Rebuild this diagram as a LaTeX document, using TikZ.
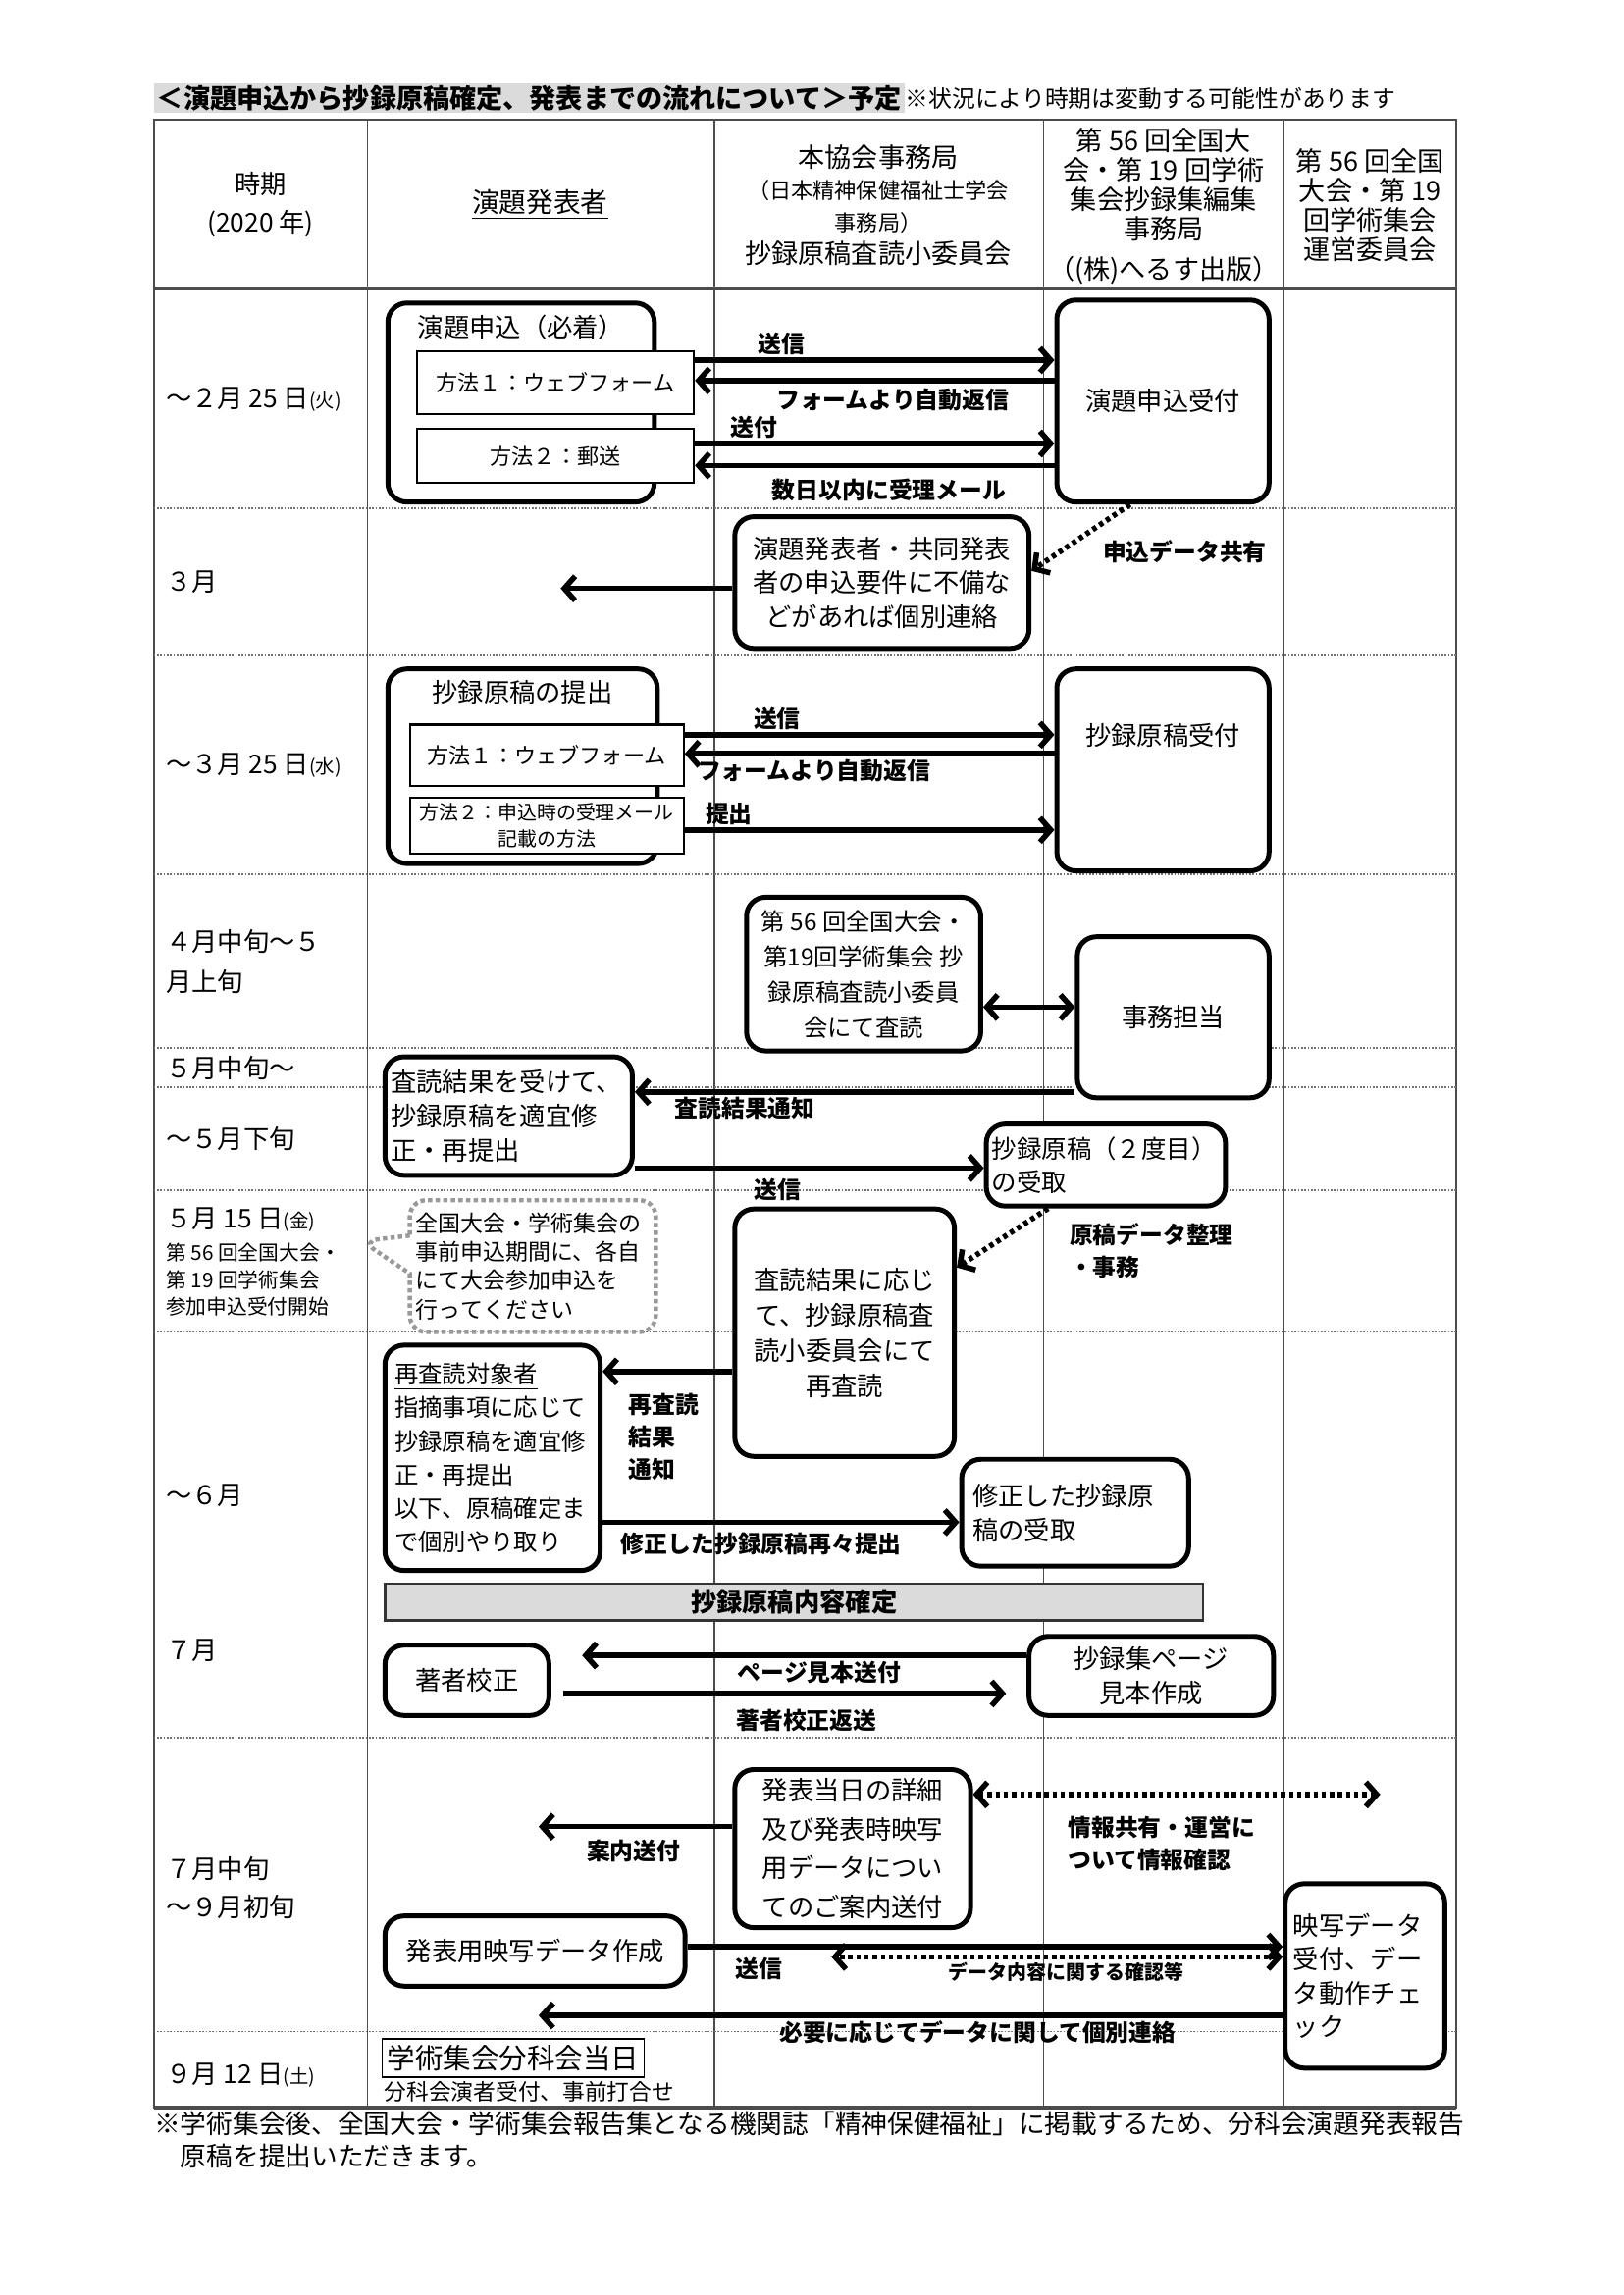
\documentclass[tikz,border=0pt]{standalone}
\usepackage{fontspec}
\setmainfont{Noto Sans CJK JP}
\XeTeXlinebreaklocale "ja"
\usetikzlibrary{arrows.meta,positioning,shapes.callouts}
\newlength{\pxunit}\setlength{\pxunit}{0.5388pt}
\newcommand{\fsBody}{\fontsize{9.5}{12.5}\selectfont}
\newcommand{\fsHead}{\fontsize{9.8}{10.8}\selectfont}
\newcommand{\fsSmall}{\fontsize{8}{10}\selectfont}
\newcommand{\fsMini}{\fontsize{7.2}{9.6}\selectfont}
\newcommand{\fsLabel}{\fontsize{8.6}{12}\selectfont}
\newcommand{\fsTiny}{\fontsize{7}{8.5}\selectfont}
\definecolor{rdGrid}{gray}{0.3}
\definecolor{rdBar}{gray}{0.86}
\definecolor{rdNote}{gray}{0.6}
\tikzset{
  rdbox/.style={rectangle,rounded corners=7pt,draw=black,line width=1.8pt,fill=white,align=center,inner sep=2pt,font=\fsBody},
  rdway/.style={rectangle,draw=black,line width=0.8pt,fill=white,align=center,inner sep=1pt,font=\fsSmall},
  rdplain/.style={inner sep=0pt,font=\fsBody},
  rdflow/.style={-{Straight Barb[length=4pt,width=9pt]},line width=2pt},
  rdboth/.style={{Straight Barb[length=4pt,width=9pt]}-{Straight Barb[length=4pt,width=9pt]},line width=2pt},
  rddot/.style={dash pattern=on 1.6pt off 1.4pt},
  rdlabel/.style={font=\fsLabel\bfseries,inner sep=1pt},
  rdmonth/.style={anchor=west,font=\fsBody,align=left,inner sep=0pt},
  rdhead/.style={align=center,font=\fsHead,inner sep=0pt},
  rdrow/.style={draw=black!55,line width=0.7pt,dash pattern=on 0.6pt off 0.6pt},
  rdbar/.style={rectangle,draw=black!80,line width=0.9pt,fill=rdBar,font=\fsBody\bfseries,inner sep=1pt},
  rdnotice/.style={rectangle callout,rounded corners=6pt,draw=rdNote,line width=1.6pt,dash pattern=on 1.6pt off 1.2pt,fill=white,align=left,inner sep=2pt,font=\fontsize{8.3}{10.6}\selectfont,callout pointer width=14pt},
  rdday/.style={rectangle,draw=black,line width=0.6pt,inner sep=1pt,font=\fontsize{10.3}{12}\selectfont}
}

\begin{document}
\begin{tikzpicture}[x=\pxunit,y=-\pxunit]
\useasboundingbox[fill=white] (0,0) rectangle (1109,1568);

% ---- TITLE ----
\node[rdplain,anchor=west,fill=rdBar,inner xsep=1pt,minimum height=20\pxunit,font=\fontsize{9.8}{11}\selectfont\bfseries] (title) at (105,67) {＜演題申込から抄録原稿確定、発表までの流れについて＞予定};
\node[rdplain,right=0pt of title,font=\fontsize{8.6}{10}\selectfont] (caveat) {※状況により時期は変動する可能性があります};

% ---- TABLE GRID ----
\draw[line width=0.8pt,rdGrid] (105,82) rectangle (995,1440);
\foreach \cx in {251,488,713,877} \draw[line width=0.6pt,rdGrid] (\cx,82) -- (\cx,1440);
\foreach \ry in {347,448,597,716,743,813,910,1187,1388} \draw[rdrow] (105,\ry) -- (995,\ry);
\draw[line width=1.6pt,rdGrid] (105,197) -- (995,197);
\draw[line width=1.6pt,rdGrid] (105,1440) -- (995,1440);

% ---- HEADER ----
\node[rdhead,font=\fontsize{9.5}{14}\selectfont] (hTime) at (178,140) {時期\\(2020 年)};
\node[rdhead,font=\fontsize{10}{12}\selectfont] (hAuthor) at (369,140) {\underline{演題発表者}};
\node[rdhead,font=\fontsize{9.8}{11.8}\selectfont] (hOffice) at (600,140) {本協会事務局\\{\fsSmall （日本精神保健福祉士学会}\\{\fsSmall 事務局）}\\抄録原稿査読小委員会};
\node[rdhead] (hEditor) at (795,141) {第 56 回全国大\\会・第 19 回学術\\集会抄録集編集\\事務局\\[4pt]（(株)へるす出版）};
\node[rdhead] (hCommittee) at (936,140) {第 56 回全国\\大会・第 19\\回学術集会\\運営委員会};

% ---- ROW LABELS ----
\node[rdmonth] (mFeb) at (113,273) {～２月 25 日{\fsTiny (火)}};
\node[rdmonth] (mMar) at (113,398) {３月};
\node[rdmonth] (mMar25) at (113,523) {～３月 25 日{\fsTiny (水)}};
\node[rdmonth,font=\fontsize{9.5}{14.5}\selectfont] (mApr) at (113,657) {４月中旬～５\\月上旬};
\node[rdmonth] (mMayMid) at (113,730) {５月中旬～};
\node[rdmonth] (mMayEnd) at (113,778) {～５月下旬};
\node[rdmonth] (mMay15) at (113,833) {５月 15 日{\fsTiny (金)}};
\node[rdmonth,font=\fontsize{7.5}{10}\selectfont,below right=4pt and 0pt of mMay15.south west] (mMay15sub) {第 56 回全国大会・\\第 19 回学術集会\\参加申込受付開始};
\node[rdmonth] (mJun) at (113,1022) {～６月};
\node[rdmonth] (mJul) at (113,1128) {７月};
\node[rdmonth,font=\fontsize{9.5}{14}\selectfont] (mJulMid) at (113,1290) {７月中旬\\～９月初旬};
\node[rdmonth] (mSep) at (113,1418) {９月 12 日{\fsTiny (土)}};

% ---- ROW 1: APPLICATION ----
\node[rdbox,minimum width=182\pxunit,minimum height=136\pxunit] (apply) at (356,275) {};
\node[rdplain,below=5pt of apply.north] (applyTtl) {演題申込（必着）};
\node[rdway,minimum width=189\pxunit,minimum height=43\pxunit] (web1) at (379.5,261.5) {方法１：ウェブフォーム};
\node[rdway,minimum width=189\pxunit,minimum height=37\pxunit] (post1) at (379.5,311.5) {方法２：郵送};
\node[rdbox,minimum width=145\pxunit,minimum height=138\pxunit] (recv1) at (794.5,274) {演題申込受付};
\draw[rdflow] (web1.east |- 0,246) -- node[rdlabel,above,pos=0.24] {送信} (recv1.west |- 0,246);
\draw[rdflow] (recv1.west |- 0,260) -- node[rdlabel,below,pos=0.45,yshift=-1pt] {フォームより自動返信} (web1.east |- 0,260);
\draw[rdflow] (post1.east |- 0,303) -- node[rdlabel,above,pos=0.165] {送付} (recv1.west |- 0,303);
\draw[rdflow] (recv1.west |- 0,318) -- node[rdlabel,below,pos=0.46,yshift=-3pt] {数日以内に受理メール} (post1.east |- 0,318);

% ---- ROW 2: CHECK ----
\node[rdbox,minimum width=201\pxunit,minimum height=90\pxunit] (check) at (602.5,398) {演題発表者・共同発表\\者の申込要件に不備な\\どがあれば個別連絡};
\coordinate (toAuthorA) at (383,402);
\draw[rdflow] (check.west |- 0,402) -- (toAuthorA);
\draw[rdflow,rddot] ([xshift=-22.5\pxunit]recv1.south) -- node[rdlabel,anchor=west,pos=0.55,xshift=8pt,yshift=-4pt] {申込データ共有} (check.east |- 0,390);

% ---- ROW 3: MANUSCRIPT ----
\node[rdbox,minimum width=184\pxunit,minimum height=133\pxunit] (submit) at (357,523.5) {};
\node[rdplain,below=5pt of submit.north] (submitTtl) {抄録原稿の提出};
\node[rdway,minimum width=187\pxunit,minimum height=42\pxunit] (web2) at (373.5,516) {方法１：ウェブフォーム};
\node[rdway,minimum width=187\pxunit,minimum height=38\pxunit,font=\fsMini] (mail2) at (373.5,564) {方法２：申込時の受理メール\\記載の方法};
\node[rdbox,minimum width=145\pxunit,minimum height=138\pxunit] (recv2) at (794.5,526) {抄録原稿受付\\[14pt]};
\draw[rdflow] (web2.east |- 0,502) -- node[rdlabel,above,pos=0.25] {送信} (recv2.west |- 0,502);
\draw[rdflow] (recv2.west |- 0,515) -- node[rdlabel,below,pos=0.65] {フォームより自動返信} (web2.east |- 0,515);
\draw[rdflow] (mail2.east |- 0,567) -- node[rdlabel,above,pos=0.12] {提出} (recv2.west |- 0,567);

% ---- ROW 4: REVIEW ----
\node[rdbox,minimum width=160\pxunit,minimum height=105\pxunit,font=\fontsize{8.8}{13}\selectfont] (review) at (590,665.5) {第 56 回全国大会・\\第19回学術集会\ 抄\\録原稿査読小委員\\会にて査読};
\node[rdbox,minimum width=131\pxunit,minimum height=110\pxunit] (staff) at (801.5,695) {事務担当};
\draw[rdboth] (review.east |- 0,688) -- (staff.west |- 0,688);

% ---- ROW 5: REVISION ----
\node[rdbox,minimum width=169\pxunit,minimum height=81\pxunit,text width=161\pxunit,align=left] (revise) at (347.5,762.5) {査読結果を受けて、\\抄録原稿を適宜修\\正・再提出};
\draw[rdflow] (staff.west |- 0,746) -- node[rdlabel,below,pos=0.75] {査読結果通知} (revise.east |- 0,746);
\node[rdbox,minimum width=161\pxunit,minimum height=56\pxunit,text width=156\pxunit,align=left,font=\fontsize{9.2}{12.5}\selectfont] (second) at (755.5,796) {抄録原稿（２度目）\\の受取};
\draw[rdflow] (revise.east |- 0,798) -- node[rdlabel,below,pos=0.41,yshift=-2pt] {送信} (second.west |- 0,798);

% ---- ROW 7: NOTICE AND RE-REVIEW ----
\node[rdnotice,callout absolute pointer={(247,848)},minimum width=168\pxunit,minimum height=90\pxunit,text width=160\pxunit] (notice) at (364,865) {全国大会・学術集会の\\事前申込期間に、各自\\にて大会参加申込を\\行ってください};
\node[rdbox,minimum width=150\pxunit,minimum height=169\pxunit,font=\fontsize{9.5}{13}\selectfont] (rereview) at (577,910.5) {査読結果に応じ\\て、抄録原稿査\\読小委員会にて\\再査読};
\draw[rdflow,rddot] ([xshift=-39.5\pxunit]second.south) -- node[rdlabel,anchor=west,align=left,pos=0.3,xshift=16pt,yshift=-9pt] {原稿データ整理\\・事務} (rereview.east |- 0,866);

% ---- ROW 8: SECOND ROUND ----
\node[rdbox,minimum width=147\pxunit,minimum height=154\pxunit,text width=134\pxunit,align=left,font=\fontsize{8.8}{12.3}\selectfont] (target) at (336.5,996) {\underline{再査読対象者}\\指摘事項に応じて\\抄録原稿を適宜修\\正・再提出\\以下、原稿確定ま\\で個別やり取り};
\draw[rdflow] (rereview.west |- 0,937) -- node[rdlabel,anchor=north west,align=left,pos=0.84,yshift=-6pt] {再査読\\結果\\通知} (target.east |- 0,937);
\node[rdbox,minimum width=155\pxunit,minimum height=73\pxunit,text width=140\pxunit,align=left] (fixed) at (734.5,1033.5) {修正した抄録原\\稿の受取};
\draw[rdflow] (target.east |- 0,1040) -- node[rdlabel,below,pos=0.445,yshift=-2pt] {修正した抄録原稿再々提出} (fixed.west |- 0,1040);
\node[rdbar,minimum width=559\pxunit,minimum height=25\pxunit] (settled) at (542.5,1094.5) {抄録原稿内容確定};

% ---- ROW 8: PROOF ----
\node[rdbox,minimum width=112\pxunit,minimum height=48\pxunit] (proof) at (319,1148) {著者校正};
\node[rdbox,minimum width=167\pxunit,minimum height=54\pxunit] (sample) at (786.5,1145) {抄録集ページ\\見本作成};
\draw[rdflow,shorten >=21\pxunit] (sample.west |- 0,1131) -- node[rdlabel,below,pos=0.436] {ページ見本送付} (proof.east |- 0,1131);
\draw[rdflow,shorten <=8\pxunit,shorten >=14\pxunit] (proof.east |- 0,1157) -- node[rdlabel,below,pos=0.537,yshift=-4pt] {著者校正返送} (sample.west |- 0,1157);

% ---- ROW 9: PRESENTATION DATA ----
\node[rdbox,minimum width=161\pxunit,minimum height=108\pxunit,font=\fontsize{9.5}{14.4}\selectfont] (guide) at (582.5,1263) {発表当日の詳細\\及び発表時映写\\用データについ\\てのご案内送付};
\coordinate (toAuthorB) at (368,1248);
\draw[rdflow] (guide.west |- 0,1248) -- node[rdlabel,below,pos=0.51,yshift=-3pt] {案内送付} (toAuthorB);
\coordinate (toCommittee) at (943,1226);
\draw[rdboth,rddot] (guide.east |- 0,1226) -- node[rdlabel,anchor=north west,align=left,pos=0.22,yshift=-6pt] {情報共有・運営に\\ついて情報確認} (toCommittee);
\node[rdbox,minimum width=205\pxunit,minimum height=48\pxunit] (slides) at (365.5,1333) {発表用映写データ作成};
\node[rdbox,minimum width=109\pxunit,minimum height=126\pxunit,text width=98\pxunit,align=left] (slideChk) at (932.5,1350) {映写データ\\受付、デー\\タ動作チェ\\ック};
\draw[rdflow] (slides.east |- 0,1330) -- node[rdlabel,below,pos=0.12,yshift=-2pt] {送信} (slideChk.west |- 0,1330);
\coordinate (confirm) at (568,1337);
\draw[rdboth,rddot] (slideChk.west |- 0,1337) -- node[rdlabel,below,pos=0.48,font=\fontsize{7.2}{9}\selectfont\bfseries] {データ内容に関する確認等} (confirm);
\coordinate (toAuthorC) at (368,1377);
\draw[rdflow] (slideChk.west |- 0,1377) -- node[rdlabel,below,pos=0.41] {必要に応じてデータに関して個別連絡} (toAuthorC);

% ---- ROW 10: CONFERENCE DAY ----
\node[rdday,minimum width=179\pxunit,minimum height=26\pxunit] (dayOf) at (350.5,1406) {学術集会分科会当日};
\node[rdplain,font=\fontsize{8.2}{9.5}\selectfont,below right=1pt and 1pt of dayOf.south west] (dayNote) {分科会演者受付、事前打合せ};

% ---- FOOTNOTE ----
\node[rdplain,anchor=north west,align=left,font=\fontsize{9.65}{12}\selectfont] (footnote) at (105,1442) {※学術集会後、全国大会・学術集会報告集となる機関誌「精神保健福祉」に掲載するため、分科会演題発表報告\\\hspace*{1em}原稿を提出いただきます。};

\end{tikzpicture}
\end{document}
